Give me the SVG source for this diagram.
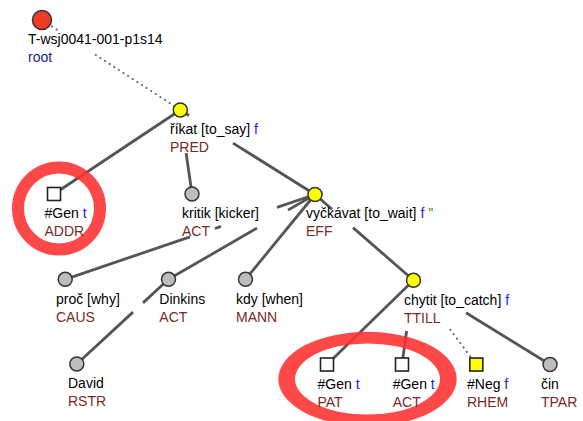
<svg xmlns="http://www.w3.org/2000/svg" width="583" height="421" viewBox="0 0 583 421">
<style>
.e{stroke:#555;stroke-width:2.8;fill:none}
.d{stroke:#666;stroke-width:1.8;stroke-dasharray:2 3.5;fill:none}
.t{font-family:"Liberation Sans",Arial,sans-serif;font-size:14px;fill:#000}
.f{fill:#7a2a1e}
.b{fill:#2020ee}
.n{fill:#1c1c8e}
.q{fill:#2a8a2a}
.y{fill:#ffff00;stroke:#333;stroke-width:1.5}
.g{fill:#bdbdbd;stroke:#333;stroke-width:1.5}
.s{fill:#fff;stroke:#222;stroke-width:1.6}
.ring{fill:none;stroke:#ff3030;opacity:0.88}
</style>
<rect width="583" height="421" fill="#fff"/>
<g id="connectors">
  <path class="d" d="M42,20 L58,30.4 M95,54.5 L180.3,110"/>
  <path class="e" d="M180.3,110 L54,194"/>
  <path class="e" d="M186.1,153 L192,194"/>
  <path class="e" d="M180.3,110 L189,115.5 M233,143.1 L315,194.5"/>
  <path class="e" d="M315,194.5 L277,207.4 M221,226.4 L215,228.5 M190,236.9 L65.2,279.3"/>
  <path class="e" d="M315,194.5 L288,210.1 M257,228.1 L168.5,279.3"/>
  <path class="e" d="M315,194.5 L245.5,279.3"/>
  <path class="e" d="M315,194.5 L332,209.3 M353,227.6 L413.5,280.3"/>
  <path class="e" d="M168.5,279.3 L143,302.9 M133,312.1 L76.8,364"/>
  <path class="e" d="M413.5,280.3 L327,364.5"/>
  <path class="e" d="M406.6,331 L402,364.5"/>
  <path class="e" d="M466,312.7 L550,364.5"/>
  <path class="d" d="M449.8,329 L476.3,364.5"/>
</g>
<g id="highlights">
  <circle class="ring" cx="59" cy="208.5" r="41" stroke-width="12"/>
  <path fill="#ff3030" opacity="0.88" fill-rule="evenodd" d="M278.3,379 a89.2,47.2 0 1,0 178.4,0 a89.2,47.2 0 1,0 -178.4,0 Z M295,379 a72.5,35.6 0 1,0 145,0 a72.5,35.6 0 1,0 -145,0 Z"/>
</g>
<g id="n-root">
  <circle cx="42" cy="20" r="9.5" fill="#f03c24" stroke="#333" stroke-width="1.5"/>
  <text class="t" x="28" y="44">T-wsj0041-001-p1s14</text>
  <text class="t n" x="28" y="62">root</text>
</g>
<g id="n-rikat">
  <circle class="y" cx="180.3" cy="110" r="7"/>
  <text class="t" x="170" y="134">říkat [to_say] <tspan class="b">f</tspan></text>
  <text class="t f" x="170" y="152">PRED</text>
</g>
<g id="n-gen-addr">
  <rect class="s" x="47.5" y="187.5" width="13" height="13"/>
  <text class="t" x="44.5" y="218">#Gen <tspan class="b">t</tspan></text>
  <text class="t f" x="44.5" y="236">ADDR</text>
</g>
<g id="n-kritik">
  <circle class="g" cx="192" cy="194" r="7"/>
  <text class="t" x="182" y="218">kritik [kicker]</text>
  <text class="t f" x="182" y="236">ACT</text>
</g>
<g id="n-vyckavat">
  <circle class="y" cx="315" cy="194.5" r="7"/>
  <text class="t" x="306" y="218">vyčkávat [to_wait] <tspan class="b">f</tspan> <tspan class="q">"</tspan></text>
  <text class="t f" x="306" y="236">EFF</text>
</g>
<g id="n-proc">
  <circle class="g" cx="65.2" cy="279.3" r="7"/>
  <text class="t" x="56" y="303.5">proč [why]</text>
  <text class="t f" x="56" y="321.5">CAUS</text>
</g>
<g id="n-dinkins">
  <circle class="g" cx="168.5" cy="279.3" r="7"/>
  <text class="t" x="159.3" y="303.5">Dinkins</text>
  <text class="t f" x="159.3" y="321.5">ACT</text>
</g>
<g id="n-kdy">
  <circle class="g" cx="245.5" cy="279.3" r="7"/>
  <text class="t" x="236" y="303.5">kdy [when]</text>
  <text class="t f" x="236" y="321.5">MANN</text>
</g>
<g id="n-chytit">
  <circle class="y" cx="413.5" cy="280.3" r="7"/>
  <text class="t" x="404" y="304.5">chytit [to_catch] <tspan class="b">f</tspan></text>
  <text class="t f" x="404" y="322.5">TTILL</text>
</g>
<g id="n-david">
  <circle class="g" cx="76.8" cy="364" r="7"/>
  <text class="t" x="68" y="388">David</text>
  <text class="t f" x="68" y="406">RSTR</text>
</g>
<g id="n-gen-pat">
  <rect class="s" x="320.5" y="358" width="13" height="13"/>
  <text class="t" x="317.5" y="388.5">#Gen <tspan class="b">t</tspan></text>
  <text class="t f" x="317.5" y="406.5">PAT</text>
</g>
<g id="n-gen-act">
  <rect class="s" x="395.5" y="358" width="13" height="13"/>
  <text class="t" x="392.7" y="388.5">#Gen <tspan class="b">t</tspan></text>
  <text class="t f" x="392.7" y="406.5">ACT</text>
</g>
<g id="n-neg">
  <rect x="469.8" y="358" width="13" height="13" fill="#ffff00" stroke="#222" stroke-width="1.6"/>
  <text class="t" x="467" y="388.5">#Neg <tspan class="b">f</tspan></text>
  <text class="t f" x="467" y="406.5">RHEM</text>
</g>
<g id="n-cin">
  <circle class="g" cx="550" cy="364.5" r="7"/>
  <text class="t" x="541" y="388.5">čin</text>
  <text class="t f" x="541" y="406.5">TPAR</text>
</g>
</svg>
